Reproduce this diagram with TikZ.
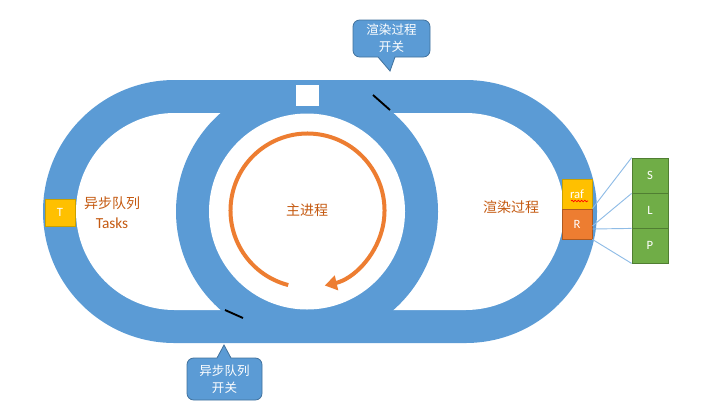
\documentclass[tikz,border=0pt]{standalone}
\usepackage{fontspec}
\setmainfont{Carlito}
\newfontfamily\cjk{Noto Sans CJK SC}
\usetikzlibrary{arrows.meta,decorations.pathmorphing}
\definecolor{trackblue}{HTML}{5B9BD5}
\definecolor{calloutedge}{HTML}{41719C}
\definecolor{boxyellow}{HTML}{FFC000}
\definecolor{yellowedge}{HTML}{C9A000}
\definecolor{boxorange}{HTML}{ED7D31}
\definecolor{orangeedge}{HTML}{AE5A21}
\definecolor{boxgreen}{HTML}{70AD47}
\definecolor{greenedge}{HTML}{507E32}
\definecolor{textorange}{HTML}{C55A11}
\definecolor{linkblue}{HTML}{8FBCE6}
\tikzset{
  lbl/.style={font=\cjk\fontsize{10.5pt}{15pt}\selectfont, text=textorange, align=center, inner sep=0pt},
  callout/.style={fill=trackblue, draw=calloutedge, line width=0.6pt},
  callouttext/.style={font=\cjk\fontsize{9.4pt}{12.6pt}\selectfont, text=white, align=center, inner sep=0pt},
  smallbox/.style={draw, line width=0.6pt, inner sep=0pt, text=white, font=\fontsize{9.5pt}{11pt}\selectfont},
  tbox/.style={smallbox, fill=boxyellow, draw=yellowedge, minimum width=22.5pt, minimum height=20.25pt},
  rafbox/.style={smallbox, fill=boxyellow, draw=yellowedge, minimum width=22.5pt, minimum height=22.5pt},
  rbox/.style={smallbox, fill=boxorange, draw=orangeedge, minimum width=22.5pt, minimum height=22.5pt},
  gbox/.style={smallbox, fill=boxgreen, draw=greenedge, minimum width=27pt, minimum height=26.25pt},
  link/.style={draw=linkblue, line width=0.7pt},
  tick/.style={draw=black, line width=1.4pt},
}
\begin{document}
\begin{tikzpicture}[x=0.75pt,y=-0.75pt]
\useasboundingbox (0,0) rectangle (705,419);
% outer track (stadium)
\fill[trackblue, rounded corners=98.6pt] (43,80) rectangle (597,343);
\fill[white, rounded corners=73.9pt] (76,113) rectangle (564,310);
% middle ring
\fill[trackblue] (307,211.5) circle[radius=131];
\fill[white] (307,211.5) circle[radius=98];
% white gap on top
\fill[white] (296,85) rectangle (319,106);
% switches
\draw[tick] (373,95) -- (390,110);
\draw[tick] (225,310) -- (243,318);
% main process arrow
\draw[boxorange, line width=3pt, -{Triangle[length=9pt,width=11pt]}]
  (307.5,210.5) ++(104.5:77) arc[start angle=104.5, end angle=437, radius=77];
\node[lbl] (main) at (307,210) {主进程};
\node[lbl] (render) at (511,207) {渲染过程};
\node[lbl] (tasks) at (112,213) {异步队列\\{\fontsize{11.5pt}{15pt}\selectfont\rmfamily Tasks}};
% boxes
\node[tbox] (T) at (60,212.5) {T};
\node[rafbox] (raf) at (577,194) {raf};
\node[rbox] (R) at (577,224) {R};
\draw[red, line width=0.5pt, decorate, decoration={snake, amplitude=0.6pt, segment length=2.4pt}] (571,201) -- (588,201);
\node[gbox] (S) at (650,175.5) {S};
\node[gbox] (L) at (650,210.5) {L};
\node[gbox] (P) at (650,245.5) {P};
\draw[link] (R.north east) -- (S.north west);
\draw[link] ([yshift=-1.5pt]R.east) -- (S.south west);
\draw[link] ([yshift=-3.75pt]R.east) -- (L.south west);
\draw[link] (R.south east) -- (P.south west);
% callouts
\draw[callout] (390,71) -- (378,57) [rounded corners=5pt] -- (353,57) -- (353,20) -- (430,20) -- (430,57) [sharp corners] -- (395,57) -- cycle;
\node[callouttext] (sw1) at (391.5,38.5) {渲染过程\\开关};
\draw[callout] (224,345) -- (231,358) [rounded corners=5pt] -- (262,358) -- (262,400) -- (187,400) -- (187,358) [sharp corners] -- (217,358) -- cycle;
\node[callouttext] (sw2) at (224.5,379) {异步队列\\开关};
\end{tikzpicture}
\end{document}
